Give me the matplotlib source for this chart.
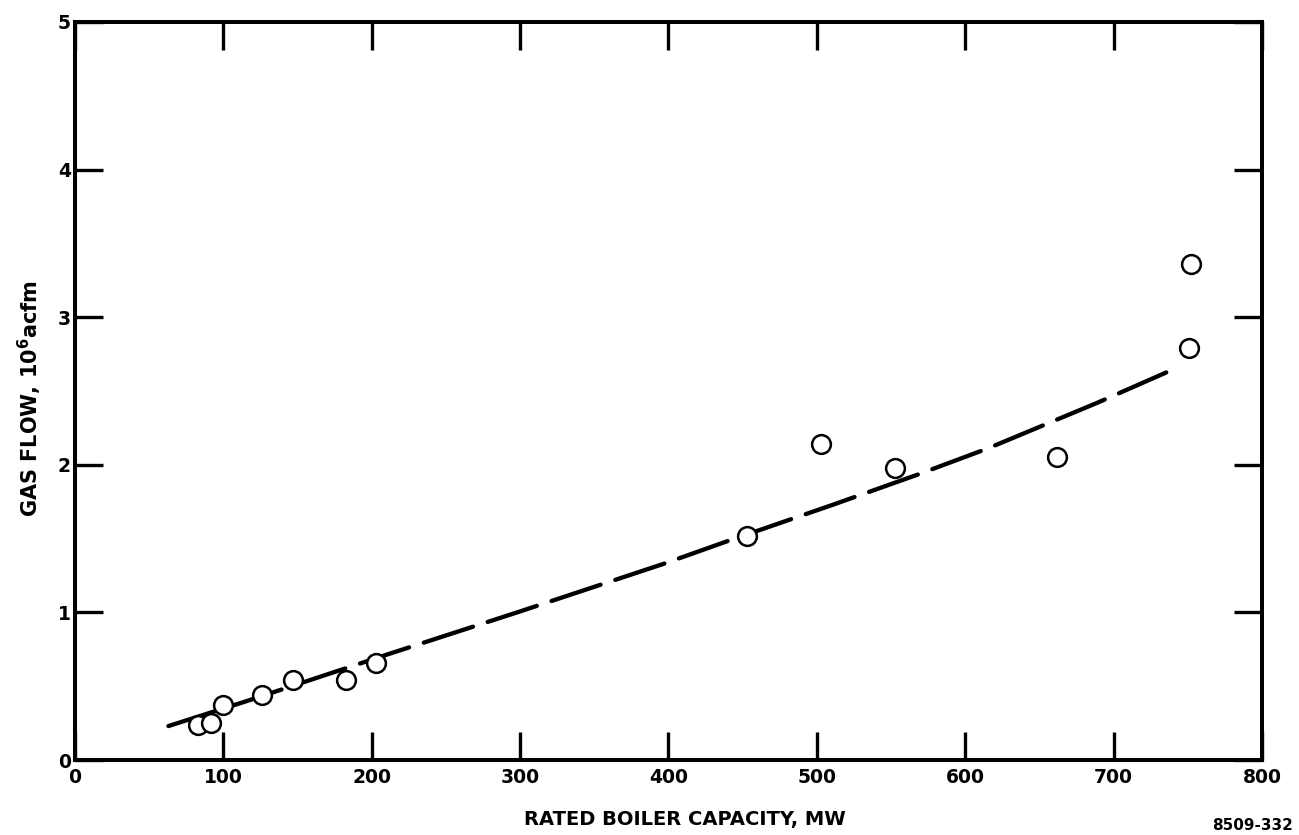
import numpy as np
import matplotlib.pyplot as plt

plt.rcParams['font.family'] = ['DejaVu Sans']
plt.rcParams['mathtext.fontset'] = 'dejavusans'

# measured boiler data
capacity_mw = [83, 92, 100, 126, 147, 183, 203, 453, 503, 553, 662, 751, 752]
gas_flow = [0.24, 0.25, 0.37, 0.44, 0.54, 0.54, 0.66, 1.52, 2.14, 1.98, 2.05, 2.79, 3.36]

# fitted trend curve
trend_mw = [63, 116, 191, 212, 298, 349, 397, 439, 511, 567, 615, 689, 741]
trend_flow = [0.23, 0.40, 0.65, 0.72, 1.00, 1.17, 1.33, 1.48, 1.73, 1.93, 2.11, 2.42, 2.65]

x_ticks = [0, 100, 200, 300, 400, 500, 600, 700, 800]
y_ticks = [0, 1, 2, 3, 4, 5]

fig = plt.figure(figsize=(12.99, 8.35), dpi=100)
ax = fig.add_axes([0.0577, 0.0898, 0.9138, 0.8839])

ax.plot(trend_mw, trend_flow, color='black', lw=3.1, dashes=(12, 3.6),
        solid_capstyle='round', dash_capstyle='round')
ax.plot(capacity_mw, gas_flow, 'o', ms=13.5, mfc='white', mec='black', mew=1.8)

ax.set_xlim(0, 800)
ax.set_ylim(0, 5)
ax.set_xticks(x_ticks)
ax.set_yticks(y_ticks)
ax.tick_params(direction='in', length=20, width=2.4, top=True, right=True,
               labelsize=13.5, pad=3)
ax.tick_params(axis='x', pad=6)
for lab in ax.get_xticklabels() + ax.get_yticklabels():
    lab.set_fontweight('bold')
for sp in ax.spines.values():
    sp.set_linewidth(2.9)

ax.set_xlabel('RATED BOILER CAPACITY, MW', fontsize=14, fontweight='bold',
              labelpad=16, x=0.5135)
ax.set_ylabel(r'GAS FLOW, 10$^{\mathbf{6}}$acfm', fontsize=15, fontweight='bold',
              labelpad=10, y=0.49)

fig.text(0.995, 0.002, '8509-332', fontsize=11, fontweight='bold', ha='right', va='bottom')

fig.savefig('out.png', dpi=100)
